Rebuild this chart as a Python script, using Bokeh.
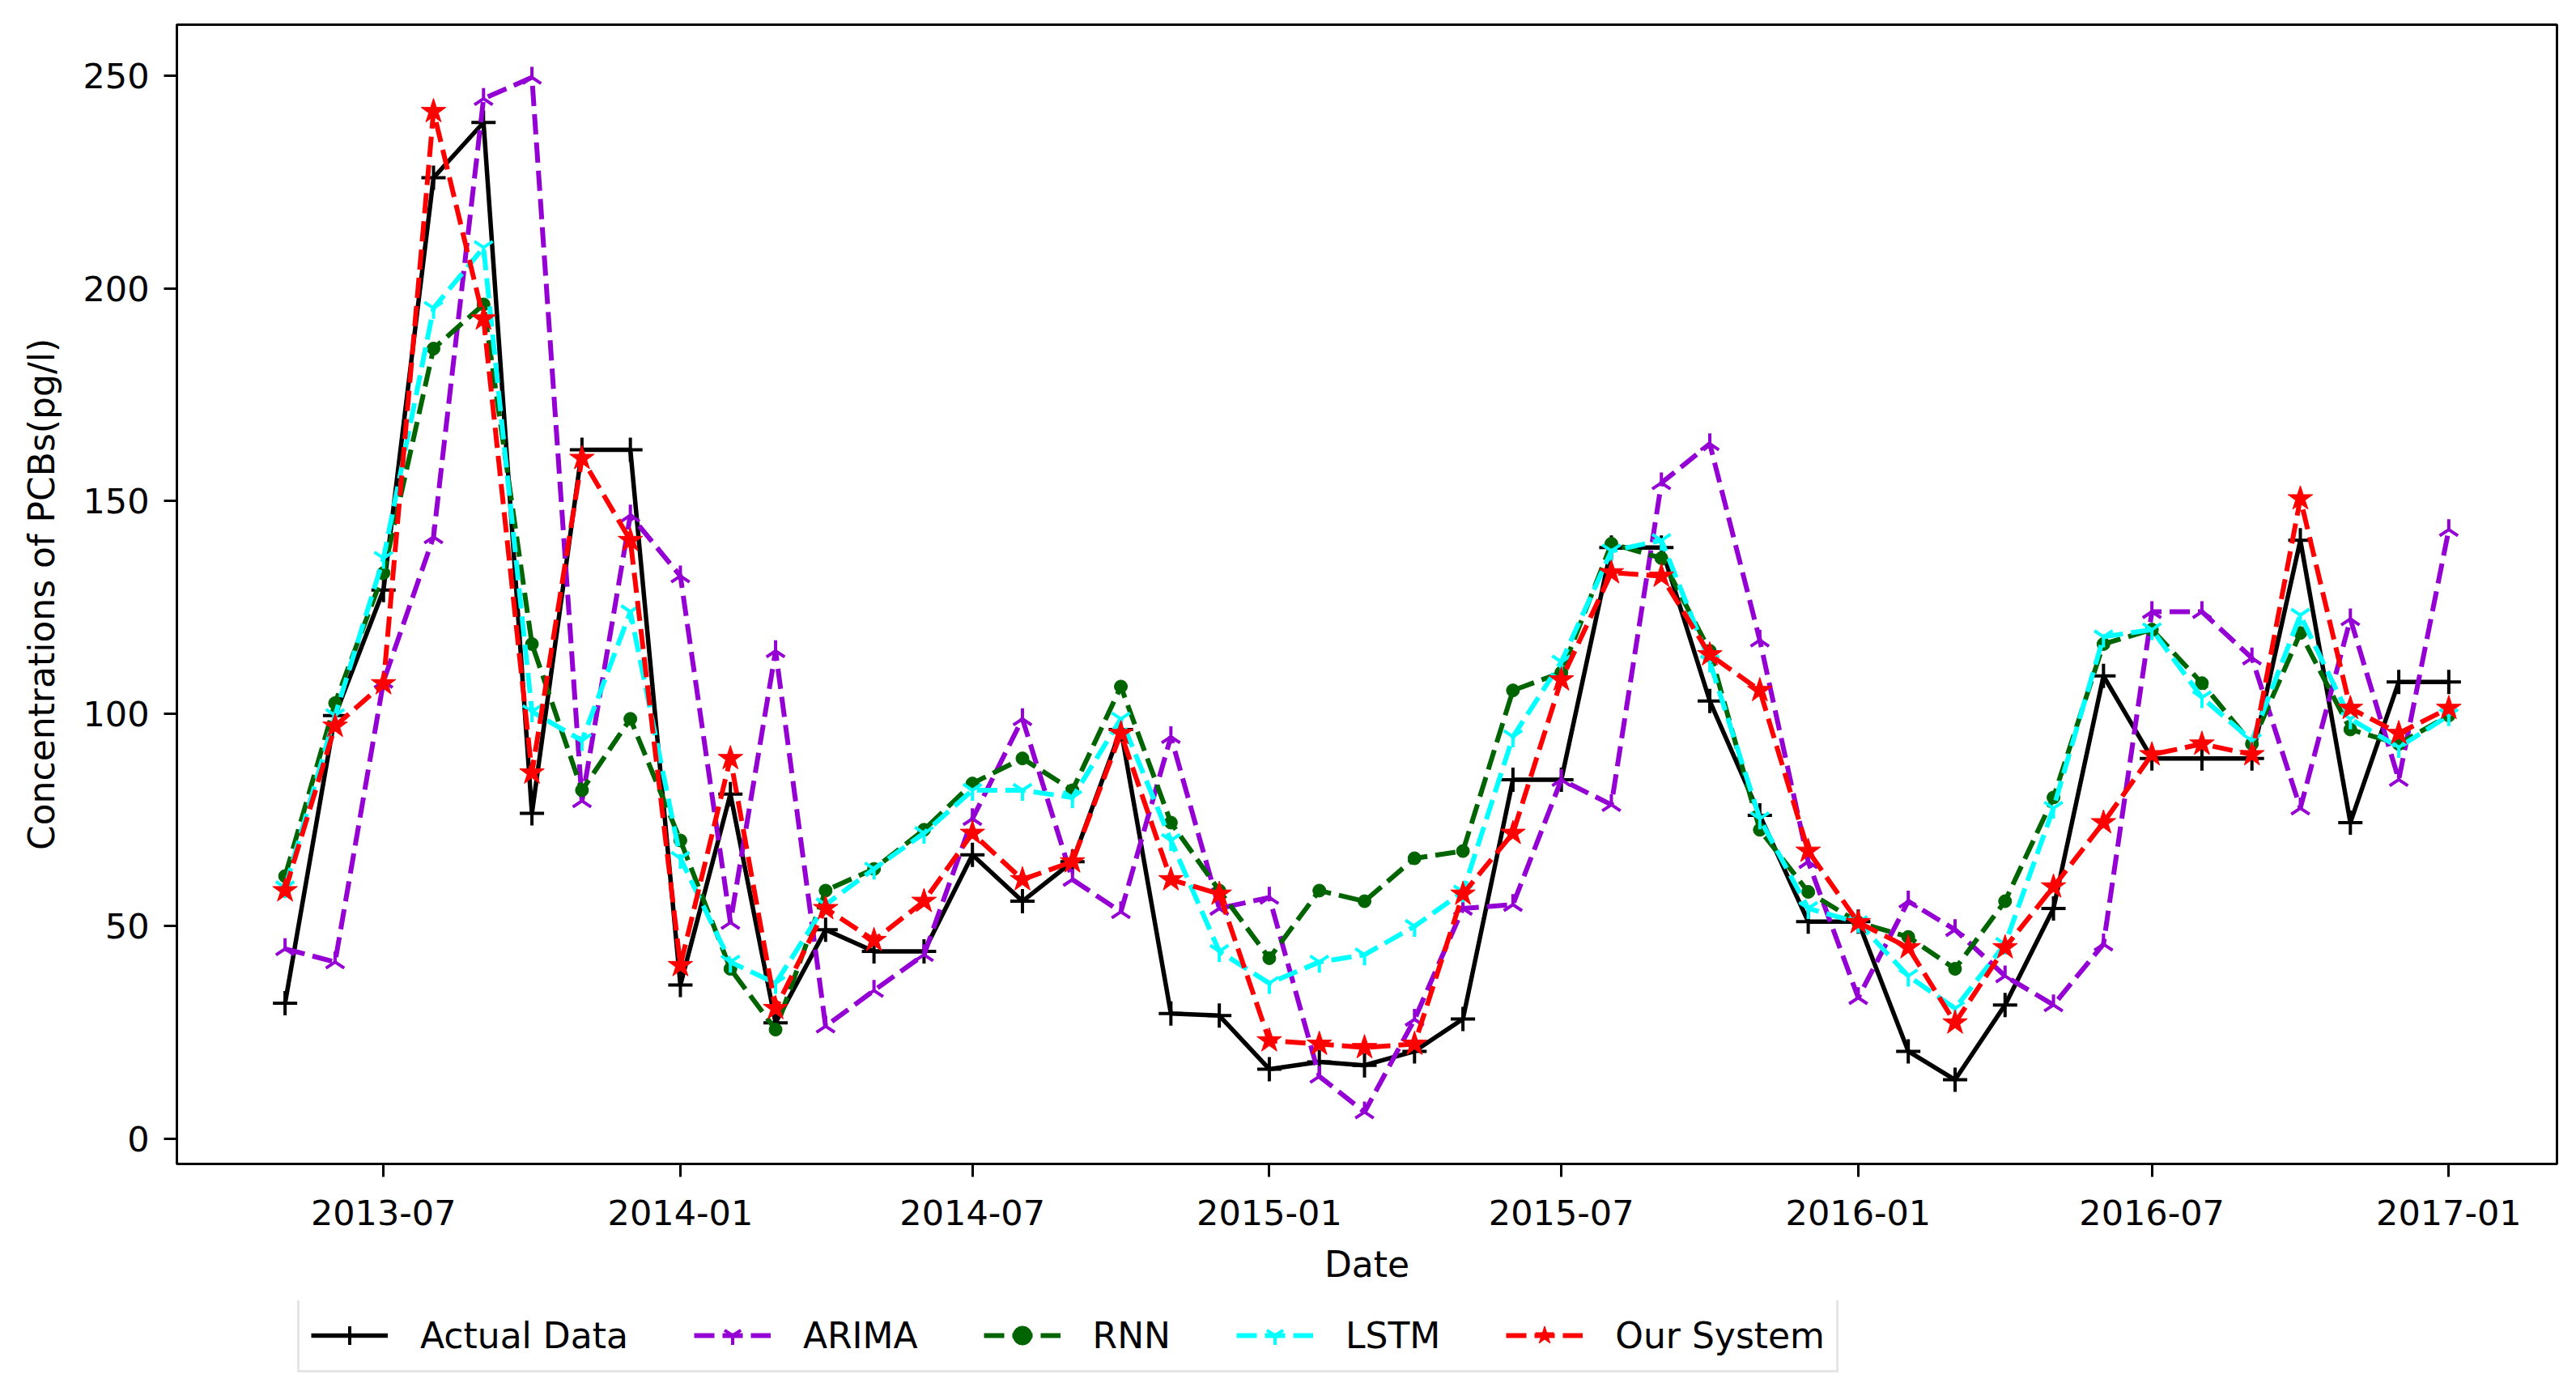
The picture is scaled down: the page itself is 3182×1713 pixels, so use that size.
import numpy as np
import pandas as pd
from bokeh.plotting import figure
from bokeh.layouts import column
from bokeh.models import Range1d, FixedTicker, Legend, LegendItem, DatetimeTickFormatter
from bokeh.embed import file_html
from bokeh.resources import INLINE

months = ["2013-05", "2013-06", "2013-07", "2013-08", "2013-09", "2013-10", "2013-11", "2013-12",
          "2014-01", "2014-02", "2014-03", "2014-04", "2014-05", "2014-06", "2014-07", "2014-08",
          "2014-09", "2014-10", "2014-11", "2014-12", "2015-01", "2015-02", "2015-03", "2015-04",
          "2015-05", "2015-06", "2015-07", "2015-08", "2015-09", "2015-10", "2015-11", "2015-12",
          "2016-01", "2016-02", "2016-03", "2016-04", "2016-05", "2016-06", "2016-07", "2016-08",
          "2016-09", "2016-10", "2016-11", "2016-12", "2017-01"]

actual = [31.8, 99.5, 129, 226, 239, 76.5, 162, 162,
          36.1, 81, 27.2, 49.1, 44, 44, 66.7, 55.8,
          65.1, 96.2, 29.4, 28.9, 16.3, 18, 17.2, 20.5,
          28.1, 84.4, 84.4, 139, 139, 102.9, 76, 51,
          51, 20.5, 13.8, 31.4, 54.1, 108.8, 89.4, 89.4,
          89.4, 140.7, 74.3, 107.4, 107.4]

arima = [44.6, 41.5, 107.5, 141.5, 244.6, 249.6, 79.4, 146.6,
         132.3, 50.8, 114.7, 26.4, 34.8, 43.2, 75.2, 98.7,
         60.9, 53.3, 94.5, 54.1, 56.7, 14.6, 6.2, 28,
         54.1, 55, 84.4, 78.5, 154.2, 163.4, 117.2, 65.1,
         33.1, 55.8, 49.1, 38.2, 31.4, 45.7, 123.9, 123.9,
         113, 77.7, 122.2, 84.4, 143.2]

rnn = [61.7, 102.4, 133, 185.8, 196.2, 116.3, 81.9, 98.7,
       70.1, 39.9, 25.6, 58.3, 63.4, 72.6, 83.5, 89.4,
       81.9, 106.3, 74.3, 58.3, 42.4, 58.3, 55.8, 65.9,
       67.6, 105.4, 109.6, 139.9, 136.5, 114.7, 72.6, 58,
       50.8, 47.4, 39.9, 55.8, 80.2, 116.3, 119.7, 107.1,
       92.8, 118.9, 96.2, 92.8, 99.5]

lstm = [59, 99.5, 136.5, 195.3, 209.6, 100.4, 93.6, 123.9,
        65.9, 41.5, 36.5, 55, 63.4, 71.8, 81.9, 81.9,
        80.2, 98.7, 70.1, 44, 36.5, 41.5, 43.2, 49.9,
        58, 94.5, 112.1, 138.2, 140.7, 112.1, 75.2, 54.1,
        50.8, 38.2, 30.6, 45.7, 77.7, 118, 119.7, 103.7,
        93.6, 123.1, 98.7, 92, 99.5]

ours = [58.3, 97, 107, 241.6, 192.8, 86, 160, 140.7,
        40.7, 89.4, 30.6, 54.1, 46.6, 55.8, 71.8, 60.9,
        65.1, 95.3, 60.9, 57.5, 23, 22.2, 21.4, 22.2,
        57.5, 71.8, 107.9, 133.1, 132.3, 113.8, 105.4, 67.6,
        50.8, 44.9, 27.2, 44.9, 59.2, 74.3, 90.3, 92.8,
        90.3, 150.5, 101.2, 95.3, 101.2]

tick_labels = ["2013-07", "2014-01", "2014-07", "2015-01", "2015-07", "2016-01", "2016-07", "2017-01"]
y_ticks = [0, 50, 100, 150, 200, 250]

x = pd.to_datetime(months, format="%Y-%m")
xms = x.values.astype("datetime64[ms]").astype(np.int64).astype(float)
span = xms[-1] - xms[0]
tick_ms = pd.to_datetime(tick_labels, format="%Y-%m").values.astype("datetime64[ms]").astype(np.int64).astype(float)

FONT = "DejaVu Sans"
W = 3166

p = figure(width=W, height=1606, output_backend="svg", toolbar_location=None,
           x_axis_type="datetime",
           x_range=Range1d(xms[0] - 0.05 * span, xms[-1] + 0.05 * span),
           y_range=Range1d(-6.0, 262.0),
           min_border_left=218, min_border_right=8, min_border_top=30, min_border_bottom=169)

p.xgrid.visible = False
p.ygrid.visible = False
p.outline_line_color = "black"
p.outline_line_width = 3
p.background_fill_color = "white"
p.border_fill_color = "white"

p.xaxis.ticker = FixedTicker(ticks=list(tick_ms))
fmt = "%Y-%m"
p.xaxis.formatter = DatetimeTickFormatter(microseconds=fmt, milliseconds=fmt, seconds=fmt, minsec=fmt,
                                          minutes=fmt, hourmin=fmt, hours=fmt, days=fmt,
                                          months=fmt, years=fmt)
p.yaxis.ticker = FixedTicker(ticks=y_ticks)

for ax in (p.xaxis[0], p.yaxis[0]):
    ax.axis_line_width = 3
    ax.axis_line_color = "black"
    ax.major_tick_line_width = 3
    ax.major_tick_line_color = "black"
    ax.major_tick_out = 16
    ax.major_tick_in = 0
    ax.minor_tick_out = 0
    ax.minor_tick_in = 0
    ax.major_label_text_font = FONT
    ax.major_label_text_font_size = "43px"
    ax.major_label_text_color = "black"
    ax.axis_label_text_font = FONT
    ax.axis_label_text_font_size = "44px"
    ax.axis_label_text_font_style = "normal"
    ax.axis_label_text_color = "black"

p.xaxis.axis_label = "Date"
p.yaxis.axis_label = "Concentrations of PCBs(pg/l)"
p.xaxis.major_label_standoff = 28
p.xaxis.axis_label_standoff = 20
p.yaxis.major_label_standoff = 18
p.yaxis.axis_label_standoff = 22

DASH = "25 10"

styles = [
    ("Actual Data", actual, dict(line_color="black", line_width=5.5),
     dict(marker="cross", size=30, line_color="black", line_width=4)),
    ("ARIMA", arima, dict(line_color="#9400D3", line_width=6, line_dash=DASH),
     dict(marker="y", angle=np.pi, size=26, line_color="#9400D3", line_width=4)),
    ("RNN", rnn, dict(line_color="#006400", line_width=6, line_dash=DASH),
     dict(marker="circle", size=16, fill_color="#006400", line_color="#006400")),
    ("LSTM", lstm, dict(line_color="#00FFFF", line_width=6, line_dash=DASH),
     dict(marker="y", size=26, line_color="#00FFFF", line_width=4)),
    ("Our System", ours, dict(line_color="#FF0000", line_width=6, line_dash=DASH),
     dict(marker="star", size=32, fill_color="#FF0000", line_color="#FF0000")),
]

# legend holder figure below the main plot
q = figure(width=W, height=91, output_backend="svg", toolbar_location=None,
           x_range=Range1d(0, 1), y_range=Range1d(0, 1),
           x_axis_location=None, y_axis_location=None,
           min_border_left=0, min_border_right=0, min_border_top=0, min_border_bottom=0)
q.xgrid.visible = False
q.ygrid.visible = False
q.outline_line_color = None
q.background_fill_color = "white"
q.border_fill_color = "white"

items = []
for label, vals, lstyle, mstyle in styles:
    p.line(x, vals, **lstyle)
    p.scatter(x, vals, **mstyle)
    ql = q.line([-10, -9], [-10, -9], **lstyle)
    qm = q.scatter([-10], [-10], **mstyle)
    items.append(LegendItem(label=label, renderers=[ql, qm]))

legend = Legend(items=items, orientation="horizontal", location=(149, 2),
                label_text_font=FONT, label_text_font_size="44px", label_text_color="black",
                glyph_width=95, glyph_height=58, label_height=58, label_standoff=40,
                spacing=81, padding=14, margin=0,
                border_line_color="#cccccc", border_line_width=3,
                background_fill_color="white", background_fill_alpha=1.0)
q.add_layout(legend, "center")

layout = column(p, q, spacing=0)
open("out.html", "w").write(file_html(layout, INLINE))
